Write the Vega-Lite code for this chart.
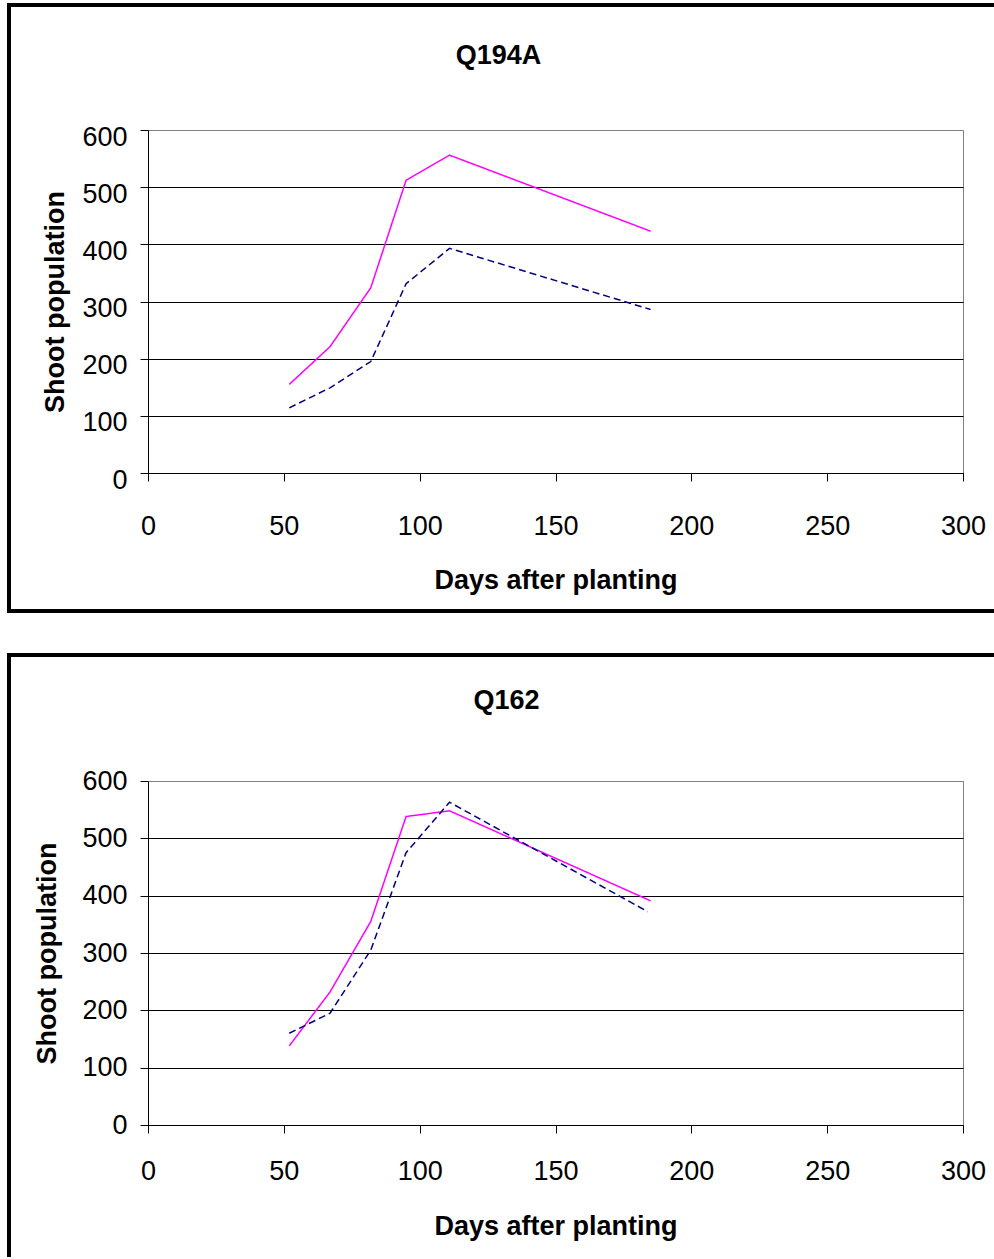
{
  "$schema": "https://vega.github.io/schema/vega-lite/v6.json",
  "padding": {"left": 5, "top": 1, "right": 0, "bottom": 0},
  "spacing": 36,
  "background": "white",
  "config": {
    "font": "Liberation Sans",
    "view": {"stroke": "#808080", "strokeWidth": 1},
    "axis": {
      "labelFont": "Liberation Sans", "labelFontSize": 27, "labelColor": "black",
      "titleFont": "Liberation Sans", "titleFontSize": 27, "titleFontWeight": "bold", "titleColor": "black",
      "tickColor": "black", "tickSize": 8, "tickWidth": 1,
      "domainColor": "black", "domainWidth": 1,
      "gridColor": {"condition": {"test": "datum.value === 600", "value": "#808080"}, "value": "black"},
      "gridOpacity": 1, "gridWidth": 1, "labelFlush": false, "labelOverlap": false
    },
    "title": {"font": "Liberation Sans", "fontSize": 27, "fontWeight": "bold", "color": "black", "anchor": "middle", "frame": "bounds"}
  },
  "datasets": {
    "q194a": [
      {"series": "Treatment 1", "days": 52, "shoots": 155},
      {"series": "Treatment 1", "days": 67, "shoots": 221},
      {"series": "Treatment 1", "days": 82, "shoots": 324},
      {"series": "Treatment 1", "days": 95, "shoots": 512},
      {"series": "Treatment 1", "days": 111, "shoots": 556},
      {"series": "Treatment 1", "days": 185, "shoots": 423},
      {"series": "Treatment 2", "days": 52, "shoots": 114},
      {"series": "Treatment 2", "days": 67, "shoots": 149},
      {"series": "Treatment 2", "days": 82, "shoots": 195},
      {"series": "Treatment 2", "days": 95, "shoots": 331},
      {"series": "Treatment 2", "days": 111, "shoots": 393},
      {"series": "Treatment 2", "days": 185, "shoots": 286}
    ],
    "q162": [
      {"series": "Treatment 1", "days": 52, "shoots": 138},
      {"series": "Treatment 1", "days": 67, "shoots": 232},
      {"series": "Treatment 1", "days": 82, "shoots": 355},
      {"series": "Treatment 1", "days": 95, "shoots": 538},
      {"series": "Treatment 1", "days": 111, "shoots": 548},
      {"series": "Treatment 1", "days": 185, "shoots": 391},
      {"series": "Treatment 2", "days": 52, "shoots": 160},
      {"series": "Treatment 2", "days": 67, "shoots": 195},
      {"series": "Treatment 2", "days": 82, "shoots": 305},
      {"series": "Treatment 2", "days": 95, "shoots": 475},
      {"series": "Treatment 2", "days": 111, "shoots": 563},
      {"series": "Treatment 2", "days": 184, "shoots": 372}
    ]
  },
  "vconcat": [
    {
      "title": {"text": "Q194A", "offset": -68, "dx": -2},
      "width": 815,
      "height": 343,
      "layer": [
        {
          "data": {"name": "q194a"},
          "mark": {"type": "line", "strokeWidth": 1.5, "clip": false},
          "encoding": {
            "x": {"field": "days", "type": "quantitative",
                  "scale": {"domain": [0, 300], "nice": false, "zero": false},
                  "axis": {"title": "Days after planting", "values": [0, 50, 100, 150, 200, 250, 300], "grid": false, "labelPadding": 32, "titlePadding": 28}},
            "y": {"field": "shoots", "type": "quantitative",
                  "scale": {"domain": [0, 600], "nice": false},
                  "axis": {"title": "Shoot population", "values": [0, 100, 200, 300, 400, 500, 600], "grid": true, "labelPadding": 13, "labelOffset": 7, "titlePadding": 12}},
            "color": {"field": "series", "type": "nominal",
                      "scale": {"domain": ["Treatment 1", "Treatment 2"], "range": ["#FF00FF", "#000080"]}, "legend": null},
            "strokeDash": {"field": "series", "type": "nominal",
                           "scale": {"domain": ["Treatment 1", "Treatment 2"], "range": [[1, 0], [7, 4]]}, "legend": null}
          }
        },
        {
          "data": {"values": [{}]},
          "mark": {"type": "rule", "color": "black", "strokeWidth": 4, "strokeCap": "square", "clip": false},
          "encoding": {
            "x": {"datum": -51.17, "type": "quantitative"},
            "y": {"datum": -241.4, "type": "quantitative"},
            "y2": {"datum": 818.7}
          }
        },
        {
          "data": {"values": [{}]},
          "mark": {"type": "rule", "color": "black", "strokeWidth": 4, "strokeCap": "square", "clip": false},
          "encoding": {
            "x": {"datum": -51.17, "type": "quantitative"},
            "x2": {"datum": 310.67},
            "y": {"datum": 818.7, "type": "quantitative"}
          }
        },
        {
          "data": {"values": [{}]},
          "mark": {"type": "rule", "color": "black", "strokeWidth": 4, "strokeCap": "square", "clip": false},
          "encoding": {
            "x": {"datum": -51.17, "type": "quantitative"},
            "x2": {"datum": 310.67},
            "y": {"datum": -241.4, "type": "quantitative"}
          }
        }
      ]
    },
    {
      "title": {"text": "Q162", "offset": -63, "dx": 6},
      "width": 815,
      "height": 344,
      "layer": [
        {
          "data": {"name": "q162"},
          "mark": {"type": "line", "strokeWidth": 1.5, "clip": false},
          "encoding": {
            "x": {"field": "days", "type": "quantitative",
                  "scale": {"domain": [0, 300], "nice": false, "zero": false},
                  "axis": {"title": "Days after planting", "values": [0, 50, 100, 150, 200, 250, 300], "grid": false, "labelPadding": 25, "titlePadding": 29}},
            "y": {"field": "shoots", "type": "quantitative",
                  "scale": {"domain": [0, 600], "nice": false},
                  "axis": {"title": "Shoot population", "values": [0, 100, 200, 300, 400, 500, 600], "grid": true, "labelPadding": 13, "titlePadding": 20}},
            "color": {"field": "series", "type": "nominal",
                      "scale": {"domain": ["Treatment 1", "Treatment 2"], "range": ["#FF00FF", "#000080"]}, "legend": null},
            "strokeDash": {"field": "series", "type": "nominal",
                           "scale": {"domain": ["Treatment 1", "Treatment 2"], "range": [[1, 0], [7, 4]]}, "legend": null}
          }
        },
        {
          "data": {"values": [{}]},
          "mark": {"type": "rule", "color": "black", "strokeWidth": 4, "strokeCap": "square", "clip": false},
          "encoding": {
            "x": {"datum": -51.17, "type": "quantitative"},
            "y": {"datum": -226.7, "type": "quantitative"},
            "y2": {"datum": 819.8}
          }
        },
        {
          "data": {"values": [{}]},
          "mark": {"type": "rule", "color": "black", "strokeWidth": 4, "strokeCap": "square", "clip": false},
          "encoding": {
            "x": {"datum": -51.17, "type": "quantitative"},
            "x2": {"datum": 310.67},
            "y": {"datum": 819.8, "type": "quantitative"}
          }
        }
      ]
    }
  ]
}
